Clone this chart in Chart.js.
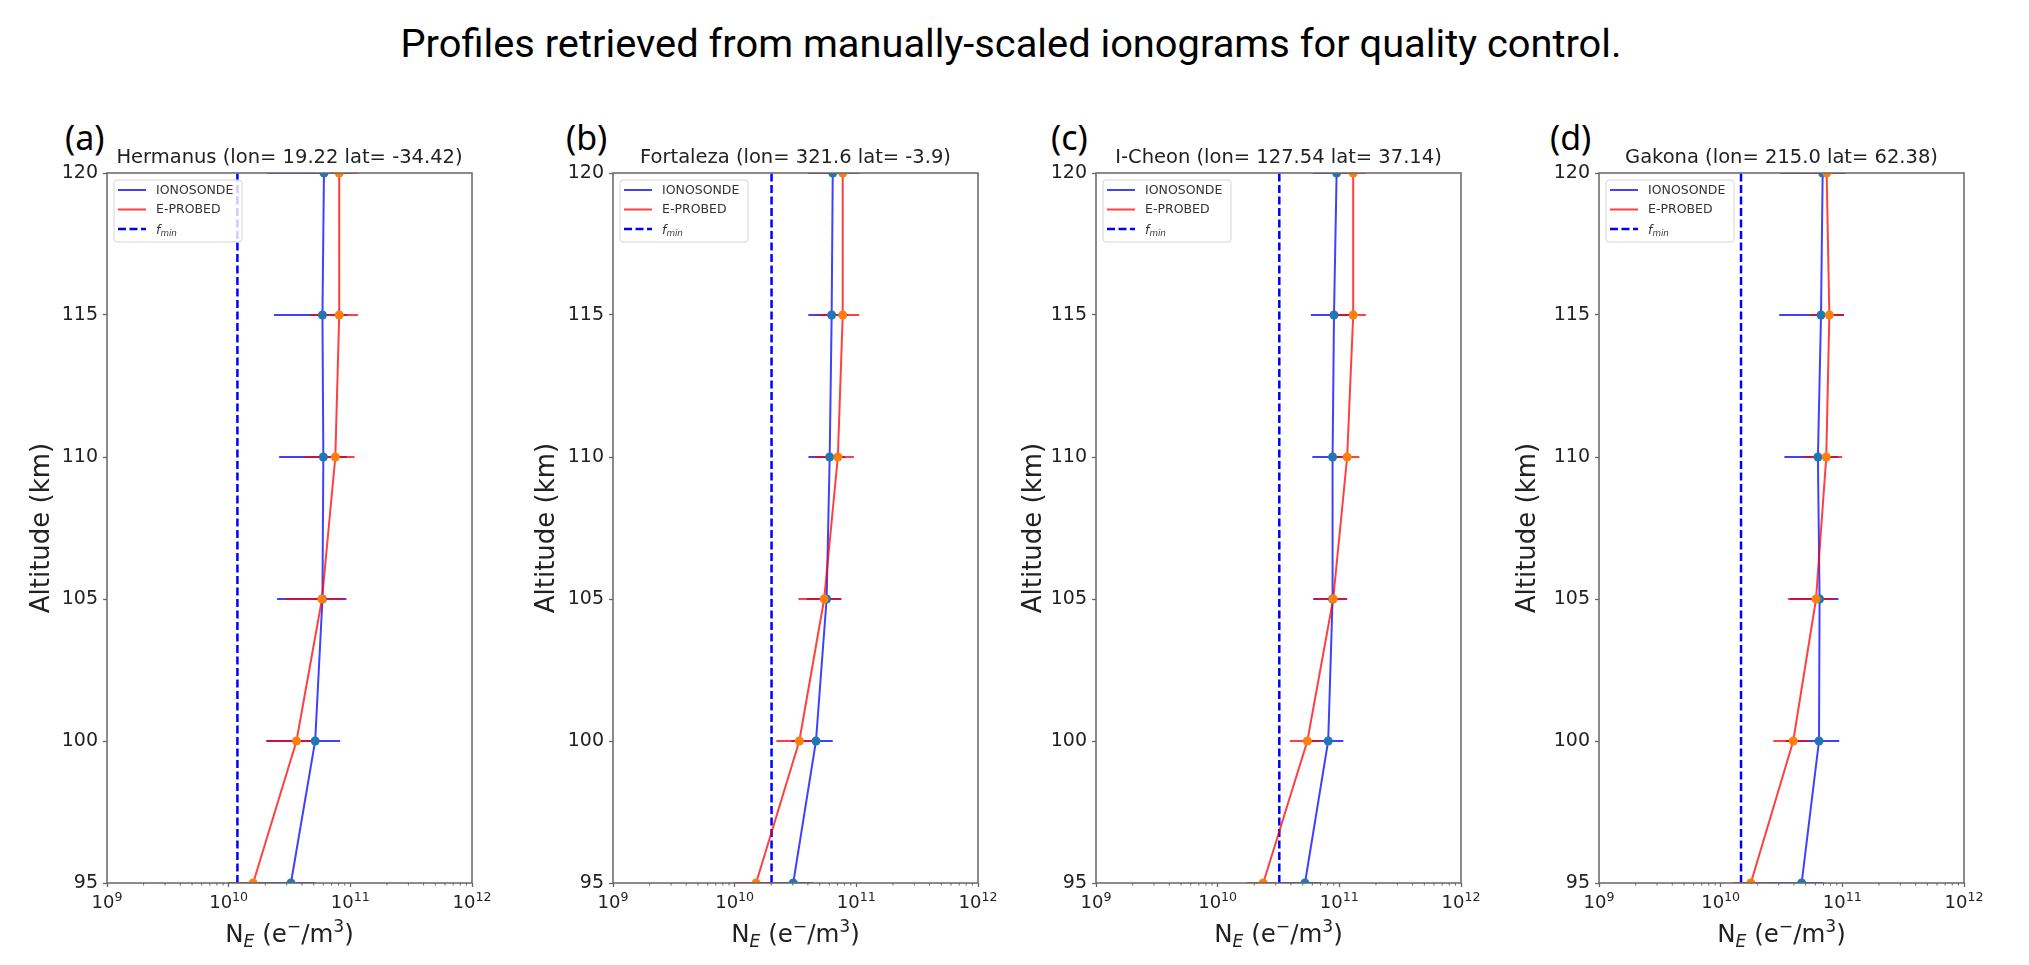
<!DOCTYPE html>
<html>
<head>
<meta charset="utf-8">
<script src="https://cdn.jsdelivr.net/npm/chart.js@4.4.1/dist/chart.umd.min.js"></script>
<style>
  body { margin: 0; background: #fff; width: 2029px; height: 965px; overflow: hidden; position: relative; }
  #title { position: absolute; left: -4px; width: 2029px; top: 25px; text-align: center;
           font-family: Roboto, sans-serif; font-size: 39px; line-height: 39px; color: #000; white-space: nowrap; }
  #titleText { display: inline-block; transform-origin: 50% 50%; }
  .tag { position: absolute; top: 120px; font-family: 'Noto Sans', sans-serif; font-size: 34px; line-height: 34px; color: #000; }
  canvas { position: absolute; top: 100px; }
</style>
</head>
<body>
<div id="title"><span id="titleText">Profiles retrieved from manually-scaled ionograms for quality control.</span></div>

<script>
// altitudes (km) of the retrieved points, bottom to top
const altitude = [95, 100, 105, 110, 115, 120];

const stationTitles = [
  'Hermanus (lon= 19.22 lat= -34.42)',
  'Fortaleza (lon= 321.6 lat= -3.9)',
  'I-Cheon (lon= 127.54 lat= 37.14)',
  'Gakona (lon= 215.0 lat= 62.38)'
];
const panelTags = ['(a)', '(b)', '(c)', '(d)'];

// electron density N_E (e-/m3), one row per station (a..d)
const ionosondeNe = [
  [3.25e10, 5.14e10, 5.9e10, 6.0e10, 5.9e10, 6.07e10],
  [3.03e10, 4.66e10, 5.7e10, 6.04e10, 6.27e10, 6.4e10],
  [5.22e10, 8.1e10, 8.8e10, 8.8e10, 9.04e10, 9.5e10],
  [4.63e10, 6.43e10, 6.5e10, 6.3e10, 6.68e10, 6.89e10]
];
const ionosondeErr = [
  [1.85e10, 3.1e10, 3.4e10, 3.4e10, 3.54e10, 4.0e10],
  [1.4e10, 1.74e10, 1.8e10, 2.0e10, 2.24e10, 2.4e10],
  [1.94e10, 2.7e10, 2.7e10, 2.8e10, 3.2e10, 3.4e10],
  [2.35e10, 3.0e10, 2.8e10, 2.96e10, 3.65e10, 3.8e10]
];
const eprobedNe = [
  [1.59e10, 3.61e10, 5.85e10, 7.53e10, 8.1e10, 8.1e10],
  [1.5e10, 3.4e10, 5.44e10, 7.05e10, 7.73e10, 7.73e10],
  [2.37e10, 5.46e10, 8.9e10, 1.16e11, 1.30e11, 1.30e11],
  [1.77e10, 3.95e10, 6.08e10, 7.38e10, 7.82e10, 7.43e10]
];
const eprobedErr = [
  [0.6e10, 1.56e10, 2.9e10, 3.3e10, 3.45e10, 3.5e10],
  [0.5e10, 1.2e10, 2.1e10, 2.5e10, 2.85e10, 2.85e10],
  [0.64e10, 1.53e10, 2.7e10, 3.0e10, 3.5e10, 3.5e10],
  [0.5e10, 1.24e10, 2.5e10, 2.6e10, 2.4e10, 3.0e10]
];
const fminNe = [1.18e10, 2.01e10, 3.21e10, 1.47e10];

// axis ticks
const xTickValues = [1e9, 1e10, 1e11, 1e12];
const xTickLabels = ['10^9', '10^10', '10^11', '10^12'];
const yTickValues = [95, 100, 105, 110, 115, 120];

// layout (pixels)
const plotLeft = [107, 613, 1096, 1599];
const tagLeft = [65, 566, 1051, 1550];
const yTitlePad = [26.4, 25.9, 30, 20.4];
const PLOT_TOP = 173, PLOT_W = 365, AXIS_W = 107, CANVAS_TOP = 100, RIGHT_PAD = 30;

const BLUE = 'rgba(0,0,255,0.75)';
const RED = 'rgba(255,0,0,0.75)';
const C0 = '#1f77b4', C1 = '#ff7f0e';
const SPINE = '#666';

Chart.defaults.font.family = "'DejaVu Sans', sans-serif";
Chart.defaults.color = '#222';

// squeeze the figure title to the reference width
const titleSpan = document.getElementById('titleText');
titleSpan.style.transform = 'scaleX(' + (1221 / titleSpan.offsetWidth) + ')';

function pts(xs) {
  return xs.map((v, k) => ({ x: v, y: altitude[k] }));
}

// text with sub/superscripts (matplotlib mathtext look-alike)
function drawRich(ctx, parts, cx, baseY, size, align) {
  const fontOf = p => (p.it ? 'italic ' : '') + ((p.sub || p.sup) ? size * 0.7 : size) + "px 'DejaVu Sans'";
  let total = 0;
  parts.forEach(p => { ctx.font = fontOf(p); p.w = ctx.measureText(p.t).width; total += p.w; });
  let x = align === 'left' ? cx : cx - total / 2;
  ctx.textAlign = 'left';
  ctx.textBaseline = 'alphabetic';
  parts.forEach(p => {
    ctx.font = fontOf(p);
    const dy = p.sub ? size * 0.22 : p.sup ? -size * 0.38 : 0;
    ctx.fillText(p.t, x, baseY + dy);
    x += p.w;
  });
}

const profileDecor = {
  id: 'profileDecor',
  // error bars go between the lines and the markers
  beforeDatasetDraw(chart, args) {
    if (args.index !== 3) return;
    const { ctx, chartArea: a, scales: { x, y } } = chart;
    ctx.save();
    ctx.beginPath();
    ctx.rect(a.left, a.top, a.width, a.height);
    ctx.clip();
    ctx.lineWidth = 2;
    [chart.data.datasets[3], chart.data.datasets[4]].forEach(ds => {
      ctx.strokeStyle = ds.barColor;
      ds.data.forEach((p, k) => {
        const py = y.getPixelForValue(p.y);
        ctx.beginPath();
        ctx.moveTo(x.getPixelForValue(Math.max(p.x - ds.errors[k], x.min)), py);
        ctx.lineTo(x.getPixelForValue(p.x + ds.errors[k]), py);
        ctx.stroke();
      });
    });
    ctx.restore();
  },
  afterDatasetsDraw(chart) {
    const { ctx, chartArea: a, scales: { x } } = chart;
    ctx.save();

    // legend box
    const bx = a.left + 7, by = a.top + 7;
    ctx.beginPath();
    ctx.roundRect(bx, by, 128, 62, 3);
    ctx.fillStyle = 'rgba(255,255,255,0.8)';
    ctx.fill();
    ctx.strokeStyle = '#d4d4d4';
    ctx.lineWidth = 1;
    ctx.stroke();
    chart.data.datasets.slice(0, 3).forEach((ds, k) => {
      const ry = by + 10 + k * 19.5;
      ctx.strokeStyle = ds.borderColor;
      ctx.lineWidth = ds.borderWidth;
      ctx.setLineDash(ds.borderDash || []);
      ctx.beginPath();
      ctx.moveTo(bx + 4, ry);
      ctx.lineTo(bx + 32, ry);
      ctx.stroke();
      ctx.setLineDash([]);
      ctx.fillStyle = '#333';
      if (ds.label.indexOf('_') > 0) {
        const [main, sub] = ds.label.split('_');
        drawRich(ctx, [{ t: main, it: true }, { t: sub, it: true, sub: true }], bx + 42, ry + 4.5, 12.5, 'left');
      } else {
        ctx.font = "12.5px 'DejaVu Sans'";
        ctx.textAlign = 'left';
        ctx.textBaseline = 'middle';
        ctx.fillText(ds.label, bx + 42, ry + 0.5);
      }
    });

    // axes frame
    ctx.strokeStyle = SPINE;
    ctx.lineWidth = 1.5;
    ctx.strokeRect(a.left, a.top, a.width, a.height);

    // minor log ticks
    ctx.lineWidth = 1;
    x.ticks.forEach(t => {
      if (xTickValues.includes(t.value)) return;
      const px = x.getPixelForValue(t.value);
      ctx.beginPath();
      ctx.moveTo(px, a.bottom);
      ctx.lineTo(px, a.bottom + 2.5);
      ctx.stroke();
    });

    // x tick labels 10^n
    ctx.fillStyle = '#222';
    xTickValues.forEach((v, k) => {
      const [base, exp] = xTickLabels[k].split('^');
      drawRich(ctx, [{ t: base }, { t: exp, sup: true }], x.getPixelForValue(v), a.bottom + 25, 18);
    });

    // x axis title N_E (e-/m3)
    drawRich(ctx, [
      { t: 'N' }, { t: 'E', it: true, sub: true }, { t: ' (e' }, { t: '−', sup: true },
      { t: '/m' }, { t: '3', sup: true }, { t: ')' }
    ], (a.left + a.right) / 2, a.bottom + 58.7, 24.5);
    ctx.restore();
  }
};

stationTitles.forEach((name, i) => {
  const tag = document.createElement('div');
  tag.className = 'tag';
  tag.textContent = panelTags[i];
  tag.style.left = tagLeft[i] + 'px';
  document.body.appendChild(tag);

  const cv = document.createElement('canvas');
  cv.width = AXIS_W + PLOT_W + RIGHT_PAD;
  cv.height = 965 - CANVAS_TOP;
  cv.style.left = (plotLeft[i] - AXIS_W) + 'px';
  document.body.appendChild(cv);

  new Chart(cv, {
    type: 'scatter',
    data: {
      datasets: [
        { label: 'IONOSONDE', data: pts(ionosondeNe[i]), showLine: true, borderColor: BLUE, borderWidth: 2,
          pointRadius: 0, order: 4, clip: 0 },
        { label: 'E-PROBED', data: pts(eprobedNe[i]), showLine: true, borderColor: RED, borderWidth: 2,
          pointRadius: 0, order: 3, clip: 0 },
        { label: 'f_min', data: [{ x: fminNe[i], y: yTickValues[0] }, { x: fminNe[i], y: yTickValues[yTickValues.length - 1] }],
          showLine: true, borderColor: '#0000ff', borderWidth: 2.5, borderDash: [8, 3.5], pointRadius: 0, order: 5, clip: 0 },
        { label: 'ionosonde points', data: pts(ionosondeNe[i]), errors: ionosondeErr[i], barColor: BLUE,
          pointRadius: 4.5, backgroundColor: C0, borderWidth: 0, order: 1, clip: 0 },
        { label: 'e-probed points', data: pts(eprobedNe[i]), errors: eprobedErr[i], barColor: RED,
          pointRadius: 4.5, backgroundColor: C1, borderWidth: 0, order: 0, clip: 0 }
      ]
    },
    options: {
      responsive: false,
      devicePixelRatio: 1,
      animation: false,
      events: [],
      layout: { padding: { top: PLOT_TOP - CANVAS_TOP - 26.4, right: RIGHT_PAD, bottom: 0, left: 0 } },
      plugins: {
        legend: { display: false },
        tooltip: { enabled: false },
        title: {
          display: true,
          text: name,
          fullSize: false,
          color: '#222',
          font: { size: 19.5, weight: 'normal' },
          padding: { top: 0, bottom: 3 }
        }
      },
      scales: {
        x: {
          type: 'logarithmic',
          position: 'bottom',
          min: xTickValues[0],
          max: xTickValues[xTickValues.length - 1],
          afterBuildTicks: scale => {
            const ticks = [];
            for (let e = 9; e < 12; e++) {
              for (let m = 1; m <= 9; m++) ticks.push({ value: m * Math.pow(10, e) });
            }
            ticks.push({ value: xTickValues[xTickValues.length - 1] });
            scale.ticks = ticks;
          },
          afterFit: scale => { scale.height = 965 - CANVAS_TOP - (PLOT_TOP - CANVAS_TOP + 710); },
          ticks: { display: false, autoSkip: false, maxRotation: 0, minRotation: 0 },
          grid: {
            drawOnChartArea: false,
            tickLength: 4,
            tickWidth: 1.3,
            tickColor: ctx => (ctx.tick && xTickValues.includes(ctx.tick.value)) ? SPINE : 'rgba(0,0,0,0)'
          },
          border: { display: false }
        },
        y: {
          type: 'linear',
          position: 'left',
          min: yTickValues[0],
          max: yTickValues[yTickValues.length - 1],
          afterFit: scale => { scale.width = AXIS_W; },
          ticks: { stepSize: 5, padding: 5, color: '#222', font: { size: 19 } },
          grid: { drawOnChartArea: false, tickLength: 4, tickWidth: 1.3, tickColor: SPINE },
          border: { display: false },
          title: {
            display: true,
            text: 'Altitude (km)',
            color: '#222',
            font: { size: 26 },
            padding: { top: yTitlePad[i], bottom: 0 }
          }
        }
      }
    },
    plugins: [profileDecor]
  });
});
</script>
</body>
</html>
